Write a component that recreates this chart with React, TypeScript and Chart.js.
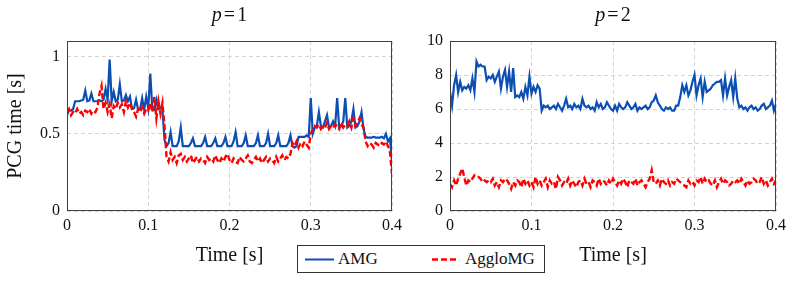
import React, { useEffect, useRef } from "react";
import { Chart, registerables } from "chart.js";

Chart.register(...registerables);

const SERIF = "'Liberation Serif', 'Times New Roman', serif";
const BLUE = "#0b4fb5";
const RED = "#ff0000";

// time axis: 161 samples, 0 .. 0.4 s
const T_STEP = 0.0025;
const N_POINTS = 161;
const timeS = Array.from({ length: N_POINTS }, (_, i) => Math.round(i * T_STEP * 10000) / 10000);

const seriesNames = ["AMG", "AggloMG"];
const panelP = ["1", "2"];
const xTickValues = [0, 0.1, 0.2, 0.3, 0.4];
const yTicksP1 = [0, 0.5, 1];
const yTicksP2 = [0, 2, 4, 6, 8, 10];

const amgP1 = [
  0.62, 0.65, 0.65, 0.66, 0.71, 0.71, 0.71, 0.715, 0.72, 0.78,
  0.71, 0.715, 0.76, 0.71, 0.71, 0.71, 0.715, 0.71, 0.72, 0.79,
  0.72, 0.98, 0.71, 0.77, 0.71, 0.72, 0.82, 0.71, 0.715, 0.75,
  0.71, 0.74, 0.66, 0.665, 0.72, 0.655, 0.66, 0.73, 0.655, 0.74,
  0.665, 0.89, 0.66, 0.655, 0.72, 0.66, 0.665, 0.655, 0.46, 0.42,
  0.44, 0.51, 0.42, 0.42, 0.42, 0.45, 0.54, 0.42, 0.42, 0.42,
  0.42, 0.44, 0.47, 0.42, 0.42, 0.42, 0.42, 0.44, 0.48, 0.42,
  0.42, 0.42, 0.44, 0.47, 0.42, 0.42, 0.42, 0.44, 0.48, 0.42,
  0.42, 0.42, 0.45, 0.51, 0.42, 0.42, 0.42, 0.44, 0.49, 0.42,
  0.42, 0.42, 0.42, 0.44, 0.49, 0.42, 0.42, 0.42, 0.44, 0.50,
  0.42, 0.42, 0.42, 0.44, 0.49, 0.42, 0.42, 0.42, 0.42, 0.44,
  0.49, 0.42, 0.41, 0.42, 0.48, 0.48, 0.48, 0.48, 0.49, 0.48,
  0.73, 0.50, 0.54, 0.55, 0.64, 0.55, 0.54, 0.58, 0.62, 0.54,
  0.55, 0.58, 0.55, 0.73, 0.54, 0.55, 0.58, 0.73, 0.54, 0.55,
  0.58, 0.66, 0.54, 0.55, 0.58, 0.64, 0.53, 0.48, 0.475, 0.475,
  0.475, 0.48, 0.475, 0.475, 0.475, 0.48, 0.47, 0.50, 0.45, 0.47,
  0.32,
];

const aggloP1 = [
  0.64, 0.66, 0.62, 0.64, 0.63, 0.66, 0.63, 0.64, 0.62, 0.65,
  0.64, 0.66, 0.63, 0.65, 0.64, 0.67, 0.76, 0.81, 0.66, 0.70,
  0.64, 0.69, 0.60, 0.68, 0.66, 0.70, 0.67, 0.69, 0.64, 0.71,
  0.67, 0.70, 0.66, 0.64, 0.61, 0.66, 0.64, 0.67, 0.63, 0.66,
  0.65, 0.70, 0.64, 0.74, 0.60, 0.71, 0.63, 0.70, 0.55, 0.35,
  0.32, 0.38, 0.33, 0.35, 0.31, 0.36, 0.37, 0.33, 0.35, 0.32,
  0.34, 0.36, 0.31, 0.33, 0.35, 0.32, 0.34, 0.33, 0.31, 0.35,
  0.33, 0.34, 0.32, 0.36, 0.33, 0.31, 0.34, 0.32, 0.35, 0.37,
  0.33, 0.31, 0.34, 0.32, 0.31, 0.35, 0.33, 0.32, 0.34, 0.36,
  0.32, 0.31, 0.33, 0.35, 0.32, 0.34, 0.31, 0.33, 0.35, 0.32,
  0.34, 0.33, 0.31, 0.35, 0.32, 0.34, 0.36, 0.33, 0.35, 0.34,
  0.37, 0.44, 0.42, 0.45, 0.41, 0.44, 0.42, 0.45, 0.43, 0.41,
  0.50, 0.53, 0.55, 0.54, 0.56, 0.53, 0.55, 0.54, 0.57, 0.53,
  0.55, 0.54, 0.56, 0.55, 0.53, 0.57, 0.54, 0.56, 0.55, 0.58,
  0.54, 0.60, 0.55, 0.57, 0.60, 0.56, 0.54, 0.45, 0.42, 0.44,
  0.43, 0.41, 0.44, 0.43, 0.42, 0.44, 0.43, 0.45, 0.42, 0.38,
  0.24,
];

const amgP2 = [
  7.0, 6.2, 7.4, 8.0, 7.0, 7.6, 7.1, 7.3, 7.2, 7.4,
  7.1, 7.8, 7.0, 8.8, 8.5, 8.6, 8.5, 8.5, 7.7, 7.9,
  7.8, 8.0, 7.6, 7.9, 8.2, 7.2, 7.9, 8.3, 7.3, 8.2,
  7.0, 8.4, 6.7, 6.8, 6.7, 7.0, 6.6, 7.3, 6.8, 7.9,
  6.9, 7.3, 7.0, 7.4, 7.2, 5.9, 6.2, 6.1, 6.2, 6.0,
  6.1, 6.2, 6.0, 6.3, 6.1, 5.9, 6.2, 6.6, 6.1, 6.2,
  6.0, 6.3, 6.1, 6.2, 6.0, 6.6, 6.2, 6.1, 6.2, 6.0,
  6.1, 5.9, 6.4, 6.1, 6.3, 6.0, 6.1, 6.4, 6.2, 6.0,
  5.9, 6.2, 5.9, 6.3, 6.1, 6.0, 6.1, 6.4, 6.2, 6.0,
  6.1, 6.3, 5.9, 6.1, 6.0, 6.1, 6.2, 6.0, 6.1, 6.4,
  6.5, 6.8, 6.4, 6.2, 6.0, 5.9, 6.1, 6.0, 6.1, 5.9,
  5.9, 6.2, 6.2, 6.7, 7.4, 7.0, 7.4, 6.8, 7.1, 7.6,
  8.0, 6.8, 7.4, 7.8, 6.7, 7.6, 7.0, 7.1, 7.2, 7.4,
  7.5, 7.6, 7.6, 7.7, 6.8, 7.8, 6.8, 7.3, 7.7, 6.7,
  7.8, 6.6, 6.1, 6.2, 6.0, 6.1, 5.9, 6.1, 6.2, 6.0,
  6.1, 5.9, 6.0, 6.2, 6.3, 6.0, 6.1, 6.2, 6.5, 5.9,
  6.3,
];

const aggloP2 = [
  1.6, 1.4, 1.8, 1.5, 1.9, 2.2, 2.5, 2.0, 1.5, 1.8,
  1.7, 1.9, 2.1, 2.0, 2.0, 1.9, 1.7, 1.8, 1.7, 1.8,
  1.7, 1.9, 1.5, 1.7, 1.4, 1.8, 1.7, 1.9, 1.8, 1.6,
  1.3, 1.7, 1.5, 1.8, 1.7, 1.4, 1.9, 1.6, 1.8, 1.5,
  1.7, 1.4, 2.0, 1.6, 1.8, 1.5, 1.7, 1.9, 1.4, 1.8,
  1.6, 1.7, 1.3, 2.0, 1.8, 1.5, 1.7, 1.6, 1.9, 1.5,
  1.8, 1.6, 1.4, 1.7, 1.8, 1.5, 1.9, 1.6, 1.7, 1.4,
  1.8, 1.7, 1.5, 1.9, 1.6, 1.8, 1.7, 1.5, 1.8, 1.6,
  1.9, 1.7, 1.5, 1.8, 1.6, 1.9, 1.7, 1.4, 1.8, 1.7,
  1.6, 1.9, 1.5, 1.7, 1.8, 1.6, 1.4, 1.7, 1.9, 2.4,
  1.7, 1.6, 1.8, 1.5, 1.9, 1.7, 1.6, 1.8, 1.5, 1.7,
  1.6, 1.9, 1.8, 1.7, 1.6, 1.5, 1.4, 1.8, 1.6, 1.7,
  1.5, 1.8, 1.7, 2.0, 1.6, 1.9, 1.7, 1.8, 1.6, 1.5,
  1.8, 1.4, 1.7, 1.9, 1.6, 1.8, 1.7, 1.5, 1.6, 1.8,
  1.7, 1.8, 1.6, 1.9, 1.7, 1.5, 1.8, 1.6, 1.7, 1.9,
  1.8, 1.6, 1.7, 2.0, 1.6, 1.8, 1.5, 1.7, 1.9, 1.6,
  1.8,
];

const fmt = (v: number) => String(Number(v.toFixed(3)));

type PanelSpec = {
  p: string;
  amg: number[];
  agglo: number[];
  yMax: number;
  yTicks: number[];
  yTitle?: string;
  yAxisWidth: number;
  padRight: number;
};

function makeConfig(spec: PanelSpec): any {
  const titlePlugin = {
    id: "frameAndTitle",
    afterDatasetsDraw(chart: any) {
      const { ctx, chartArea: a } = chart;
      ctx.save();
      ctx.strokeStyle = "#404040";
      ctx.lineWidth = 1;
      ctx.setLineDash([]);
      ctx.strokeRect(
        Math.round(a.left) + 0.5,
        Math.round(a.top) + 0.5,
        Math.round(a.right) - Math.round(a.left) - 1,
        Math.round(a.bottom) - Math.round(a.top) - 1
      );
      ctx.restore();
    },
    afterDraw(chart: any) {
      const { ctx, chartArea: a } = chart;
      ctx.save();
      ctx.fillStyle = "#111";
      ctx.textBaseline = "alphabetic";
      ctx.textAlign = "left";
      const size = 20;
      ctx.font = `italic ${size}px ${SERIF}`;
      const wp = ctx.measureText("p").width;
      ctx.font = `${size}px ${SERIF}`;
      const weq = ctx.measureText("=").width;
      const wn = ctx.measureText(spec.p).width;
      const gap = 2;
      const total = wp + gap + weq + gap + wn;
      let x = (a.left + a.right) / 2 - total / 2;
      const y = 21;
      ctx.font = `italic ${size}px ${SERIF}`;
      ctx.fillText("p", x, y);
      x += wp + gap;
      ctx.font = `${size}px ${SERIF}`;
      ctx.fillText("=", x, y);
      x += weq + gap;
      ctx.fillText(spec.p, x, y);
      ctx.restore();
    },
  };

  return {
    type: "line",
    data: {
      datasets: [
        {
          label: seriesNames[1],
          data: timeS.map((t, i) => ({ x: t, y: spec.agglo[i] })),
          borderColor: RED,
          borderWidth: 2.4,
          borderDash: [6, 3],
          pointRadius: 0,
          tension: 0,
          fill: false,
          order: 0,
        },
        {
          label: seriesNames[0],
          data: timeS.map((t, i) => ({ x: t, y: spec.amg[i] })),
          borderColor: BLUE,
          borderWidth: 2.2,
          pointRadius: 0,
          tension: 0,
          fill: false,
          order: 1,
        },
      ],
    },
    options: {
      responsive: false,
      animation: false,
      events: [],
      layout: { padding: { top: 41, right: spec.padRight, bottom: 13, left: 0 } },
      plugins: {
        legend: { display: false },
        tooltip: { enabled: false },
        title: { display: false },
      },
      scales: {
        x: {
          type: "linear",
          min: 0,
          max: 0.4,
          afterBuildTicks: (s: any) => {
            s.ticks = xTickValues.map((v) => ({ value: v }));
          },
          afterFit: (s: any) => {
            s.height = 57;
          },
          grid: { color: "#d4d4d4", drawTicks: false, lineWidth: 1 },
          border: { display: false, dash: [4, 3] },
          ticks: {
            font: { family: SERIF, size: 16 },
            color: "#111",
            padding: 5,
            maxRotation: 0,
            callback: (v: any) => fmt(Number(v)),
          },
          title: {
            display: true,
            text: "Time [s]",
            font: { family: SERIF, size: 20 },
            color: "#111",
            padding: { top: 0, bottom: 0 },
          },
        },
        y: {
          type: "linear",
          min: 0,
          max: spec.yMax,
          afterBuildTicks: (s: any) => {
            s.ticks = spec.yTicks.map((v) => ({ value: v }));
          },
          afterFit: (s: any) => {
            s.width = spec.yAxisWidth;
          },
          grid: { color: "#d4d4d4", drawTicks: false, lineWidth: 1 },
          border: { display: false, dash: [4, 3] },
          ticks: {
            font: { family: SERIF, size: 16 },
            color: "#111",
            padding: 7,
            callback: (v: any) => fmt(Number(v)),
          },
          title: {
            display: !!spec.yTitle,
            text: spec.yTitle || "",
            font: { family: SERIF, size: 20 },
            color: "#111",
            padding: { top: 4, bottom: 0 },
          },
        },
      },
    },
    plugins: [titlePlugin],
  };
}

function Panel(props: { spec: PanelSpec; left: number; width: number; height: number }) {
  const ref = useRef<HTMLCanvasElement | null>(null);
  useEffect(() => {
    if (!ref.current) return;
    const chart = new Chart(ref.current, makeConfig(props.spec));
    return () => chart.destroy();
  }, []);
  return (
    <canvas
      ref={ref}
      width={props.width}
      height={props.height}
      style={{ position: "absolute", left: props.left, top: 0, width: props.width, height: props.height }}
    />
  );
}

export default function App() {
  const p1: PanelSpec = {
    p: panelP[0],
    amg: amgP1,
    agglo: aggloP1,
    yMax: 1.1,
    yTicks: yTicksP1,
    yTitle: "PCG time [s]",
    yAxisWidth: 67,
    padRight: 18,
  };
  const p2: PanelSpec = {
    p: panelP[1],
    amg: amgP2,
    agglo: aggloP2,
    yMax: 10,
    yTicks: yTicksP2,
    yAxisWidth: 50,
    padRight: 17,
  };
  return (
    <div
      style={{
        position: "absolute",
        left: 0,
        top: 0,
        width: 793,
        height: 281,
        background: "#fff",
        overflow: "hidden",
        fontFamily: SERIF,
      }}
    >
      <Panel spec={p1} left={0} width={410} height={281} />
      <Panel spec={p2} left={400} width={393} height={281} />
      <div
        style={{
          position: "absolute",
          left: 297,
          top: 245,
          width: 248,
          height: 28,
          boxSizing: "border-box",
          border: "1px solid #333",
          background: "#fff",
          color: "#111",
          fontSize: 17,
        }}
      >
        <svg width={40} height={26} style={{ position: "absolute", left: 5, top: 0 }}>
          <line x1={2} y1={13.5} x2={31} y2={13.5} stroke={BLUE} strokeWidth={2} />
        </svg>
        <span style={{ position: "absolute", left: 40, top: 0, lineHeight: "26px" }}>{seriesNames[0]}</span>
        <svg width={40} height={26} style={{ position: "absolute", left: 132, top: 0 }}>
          <line x1={2} y1={13.5} x2={28} y2={13.5} stroke={RED} strokeWidth={2.4} strokeDasharray="6 3" />
        </svg>
        <span style={{ position: "absolute", left: 167, top: 0, lineHeight: "26px" }}>{seriesNames[1]}</span>
      </div>
    </div>
  );
}
